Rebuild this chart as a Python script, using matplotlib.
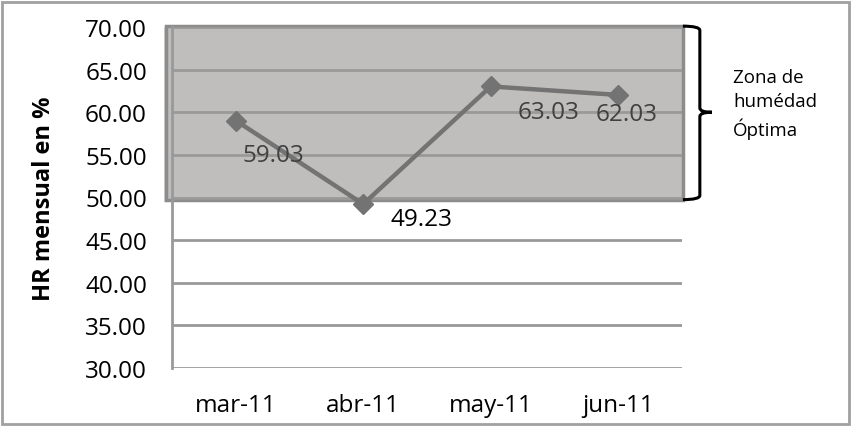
import matplotlib.pyplot as plt
from matplotlib.patches import Rectangle, PathPatch
from matplotlib.path import Path

months = ['mar-11', 'abr-11', 'may-11', 'jun-11']
hr = [59.03, 49.23, 63.03, 62.03]
labels = ['59.03', '49.23', '63.03', '62.03']
label_colors = ['#404040', '#000000', '#404040', '#404040']
# label offsets in pixels (dx, dy) from each point
label_offsets = [(38, -34), (58, -15), (58, -26), (8, -19)]

zone_low, zone_high = 49.75, 70.1
y_ticks = [30, 35, 40, 45, 50, 55, 60, 65, 70]

plt.rcParams['font.family'] = ['Open Sans', 'DejaVu Sans']

fig = plt.figure(figsize=(8.51, 4.27), dpi=100)
ax = fig.add_axes([172 / 851, 58 / 427, 510 / 851, 341 / 427])

x = list(range(len(months)))

# zona de humedad optima
shadow = Rectangle((-0.56, zone_low - 0.25), 4.08, zone_high - zone_low + 0.2,
                   facecolor='#d8d8d8', edgecolor='none', zorder=0.5, clip_on=False)
ax.add_patch(shadow)
zone = Rectangle((-0.547, zone_low), 4.054, zone_high - zone_low,
                 facecolor='#c0bebd', edgecolor='#8c8c8c', linewidth=2.5,
                 zorder=1, clip_on=False)
ax.add_patch(zone)

for yv in y_ticks:
    ax.axhline(yv, color='#999999', linewidth=2, zorder=2)

ax.plot(x, hr, color='#737373', linewidth=3.2, marker='D', markersize=10.5,
        zorder=4, clip_on=False)

for xi, yi, txt, c, (dx, dy) in zip(x, hr, labels, label_colors, label_offsets):
    ax.annotate(txt, (xi, yi), xytext=(dx * 0.72, dy * 0.72), textcoords='offset points',
                ha='center', va='center', fontsize=17.5, color=c, zorder=5)

ax.set_xlim(-0.5, 3.5)
ax.set_ylim(30, 70)
ax.set_xticks(x)
ax.set_xticklabels(months)
ax.set_yticks(y_ticks)
ax.set_yticklabels([f'{v:.2f}' for v in y_ticks])
ax.tick_params(axis='both', length=0, labelsize=17.5)
ax.tick_params(axis='y', pad=18)
ax.tick_params(axis='x', pad=18)
for s in ['top', 'right', 'bottom']:
    ax.spines[s].set_visible(False)
ax.spines['left'].set_color('#999999')
ax.spines['left'].set_linewidth(2)

ax.set_ylabel('HR mensual en %', fontsize=17, fontweight='bold', labelpad=21)

# curly brace to the right of the zone
xb0, xb1, xt = 3.507, 3.64, 3.735
ymid = 60.0
verts = [(xb0, zone_high), (xb1, zone_high), (xb1, zone_high - 0.5), (xb1, zone_high - 1.5),
         (xb1, ymid + 0.5), (xb1, ymid), (xt, ymid),
         (xb1, ymid), (xb1, ymid - 0.5), (xb1, zone_low + 1.5),
         (xb1, zone_low + 0.5), (xb1, zone_low), (xb0, zone_low)]
codes = [Path.MOVETO, Path.CURVE3, Path.CURVE3, Path.LINETO,
         Path.LINETO, Path.CURVE3, Path.CURVE3,
         Path.CURVE3, Path.CURVE3, Path.LINETO,
         Path.LINETO, Path.CURVE3, Path.CURVE3]
brace = PathPatch(Path(verts, codes), facecolor='none', edgecolor='black',
                  linewidth=2.2, clip_on=False, zorder=5)
ax.add_patch(brace)
ax.text(3.9, ymid + 1.0, 'Zona de\nhumédad\nÓptima', fontsize=13.5, ha='left',
        va='center', linespacing=1.42, clip_on=False)

fig.add_artist(Rectangle((2 / 851, 2 / 427), 847 / 851, 422 / 427, transform=fig.transFigure,
                         fill=False, edgecolor='#a0a0a0', linewidth=2))

fig.savefig('out.png', dpi=100)
